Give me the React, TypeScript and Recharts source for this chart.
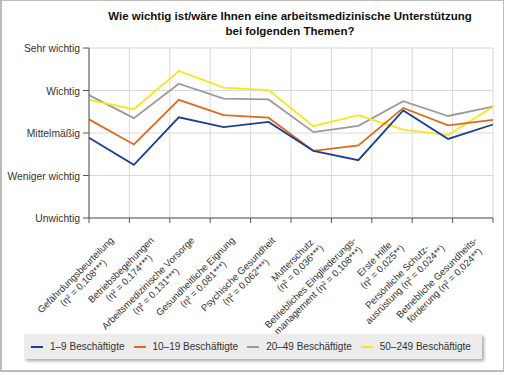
import { CartesianGrid, Line, LineChart, XAxis, YAxis } from "recharts";

const TOPICS: string[][] = [
  ["Gefährdungsbeurteilung", "(η² = 0,108***)"],
  ["Betriebsbegehungen", "(η² = 0,174***)"],
  ["Arbeitsmedizinische Vorsorge", "(η² = 0,131***)"],
  ["Gesundheitliche Eignung", "(η² = 0,081***)"],
  ["Psychische Gesundheit", "(η² = 0,062***)"],
  ["Mutterschutz", "(η² = 0,036***)"],
  ["Betriebliches Eingliederungs-", "management (η² = 0,108***)"],
  ["Erste Hilfe", "(η² = 0,025**)"],
  ["Persönliche Schutz-", "ausrüstung (η² = 0,024**)"],
  ["Betriebliche Gesundheits-", "förderung (η² = 0,024**)"],
];

const LEVELS = ["Unwichtig", "Weniger wichtig", "Mittelmäßig", "Wichtig", "Sehr wichtig"];

const size1to9 = [2.89, 2.25, 3.37, 3.14, 3.26, 2.58, 2.36, 3.53, 2.86, 3.2];
const size10to19 = [3.32, 2.73, 3.78, 3.42, 3.36, 2.58, 2.71, 3.59, 3.18, 3.31];
const size20to49 = [3.89, 3.35, 4.16, 3.81, 3.79, 3.02, 3.17, 3.75, 3.4, 3.62];
const size50to249 = [3.78, 3.56, 4.46, 4.07, 4.01, 3.16, 3.42, 3.08, 2.95, 3.62];

const SERIES = [
  { key: "s20", name: "20–49 Beschäftigte", color: "#9b9b9b", values: size20to49 },
  { key: "s50", name: "50–249 Beschäftigte", color: "#f7e61b", values: size50to249 },
  { key: "s10", name: "10–19 Beschäftigte", color: "#e0691d", values: size10to19 },
  { key: "s1", name: "1–9 Beschäftigte", color: "#1c3f94", values: size1to9 },
];
const LEGEND_ORDER = ["s1", "s10", "s20", "s50"];

const FONT = "'Liberation Sans', Arial, sans-serif";
const LABEL_PX = 9.6;
const TEXT_PX = 10.3;

const data = TOPICS.map((_, i) => {
  const row: Record<string, number> = { i };
  SERIES.forEach((s) => (row[s.key] = s.values[i]));
  return row;
});

let ctx: CanvasRenderingContext2D | null = null;
function textWidth(t: string) {
  if (!ctx) ctx = document.createElement("canvas").getContext("2d");
  if (!ctx) return t.length * 5;
  ctx.font = `${LABEL_PX}px ${FONT}`;
  return ctx.measureText(t).width;
}

function TopicTick(props: any) {
  const { x, y, payload } = props;
  const lines = TOPICS[Math.floor(payload.value)];
  if (!lines) return <g />;
  const w = Math.max(...lines.map(textWidth));
  return (
    <text
      transform={`translate(${x + 5},${y - 15}) rotate(-45)`}
      fontSize={LABEL_PX}
      fontFamily={FONT}
      fill="#333"
      textAnchor="middle"
    >
      {lines.map((l, k) => (
        <tspan key={k} x={-w / 2} y={k * 11}>
          {l}
        </tspan>
      ))}
    </text>
  );
}

function LevelTick(props: any) {
  const { x, y, payload } = props;
  return (
    <text x={x} y={y} dy={4} textAnchor="end" fontSize={TEXT_PX} fill="#333" fontFamily={FONT}>
      {LEVELS[payload.value - 1]}
    </text>
  );
}

export default function App() {
  return (
    <div
      style={{
        position: "relative",
        width: 506,
        height: 375,
        background: "#fff",
        fontFamily: FONT,
      }}
    >
      <style>{`body{margin:0}`}</style>
      <div
        style={{
          position: "absolute",
          left: 0,
          top: 0,
          width: 504,
          height: 372,
          border: "1px solid #bdbdbd",
          borderLeftWidth: 2,
          borderBottomWidth: 2,
          boxSizing: "border-box",
        }}
      />
      <div
        style={{
          position: "absolute",
          left: 90,
          width: 400,
          top: 9,
          textAlign: "center",
          fontWeight: "bold",
          fontSize: 11.5,
          lineHeight: "15px",
          color: "#111",
        }}
      >
        Wie wichtig ist/wäre Ihnen eine arbeitsmedizinische Unterstützung
        <br />
        bei folgenden Themen?
      </div>
      <LineChart
        width={506}
        height={375}
        data={data}
        margin={{ top: 48, right: 13, left: 0, bottom: 0 }}
        style={{ position: "absolute", left: 0, top: 0 }}
      >
        <CartesianGrid xAxisId="grid" stroke="#d9d9d9" strokeWidth={1} />
        <XAxis
          xAxisId="grid"
          dataKey="i"
          type="number"
          domain={[0, 10]}
          ticks={[0, 1, 2, 3, 4, 5, 6, 7, 8, 9, 10]}
          height={6}
          axisLine={{ stroke: "#555" }}
          tickLine={{ stroke: "#555" }}
          tickSize={5}
          tick={() => <g />}
        />
        <XAxis
          xAxisId="topics"
          dataKey="i"
          type="number"
          domain={[0, 10]}
          ticks={[0.5, 1.5, 2.5, 3.5, 4.5, 5.5, 6.5, 7.5, 8.5, 9.5]}
          height={151}
          axisLine={false}
          tickLine={false}
          tickSize={0}
          tick={TopicTick}
          interval={0}
        />
        <XAxis xAxisId="pts" dataKey="i" type="number" domain={[0, 9]} hide />
        <YAxis
          type="number"
          domain={[1, 5]}
          ticks={[1, 2, 3, 4, 5]}
          width={89}
          axisLine={{ stroke: "#555" }}
          tickLine={{ stroke: "#555" }}
          tickSize={6}
          tickMargin={3}
          tick={LevelTick}
        />
        {SERIES.map((s) => (
          <Line
            key={s.key}
            xAxisId="pts"
            dataKey={s.key}
            name={s.name}
            stroke={s.color}
            strokeWidth={1.8}
            dot={false}
            isAnimationActive={false}
          />
        ))}
      </LineChart>
      <div
        style={{
          position: "absolute",
          left: 24,
          top: 334,
          width: 458,
          height: 25,
          background: "#ececec",
          boxShadow: "2px 2px 3px rgba(0,0,0,0.35)",
          display: "flex",
          alignItems: "center",
          paddingLeft: 7,
          boxSizing: "border-box",
          fontSize: 10,
          color: "#333",
          whiteSpace: "nowrap",
        }}
      >
        {LEGEND_ORDER.map((k) => {
          const s = SERIES.find((x) => x.key === k)!;
          return (
            <div key={k} style={{ display: "flex", alignItems: "center", marginRight: 9, flexShrink: 0 }}>
              <span
                style={{ display: "inline-block", width: 12, height: 2, background: s.color, marginRight: 7 }}
              />
              {s.name}
            </div>
          );
        })}
      </div>
    </div>
  );
}
